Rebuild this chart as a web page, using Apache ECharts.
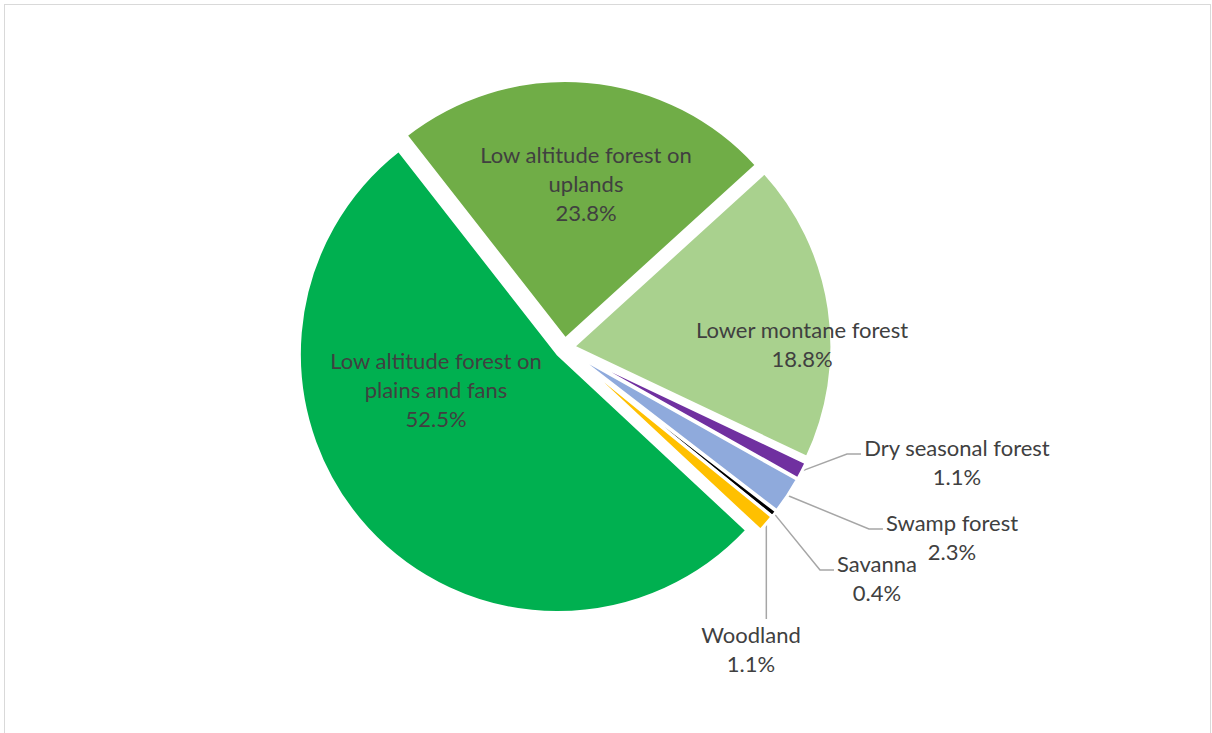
<!DOCTYPE html>
<html><head><meta charset="utf-8">
<script src="https://cdn.jsdelivr.net/npm/echarts@6/dist/echarts.min.js"></script>
<style>
html,body{margin:0;padding:0;background:#fff;}
#frame{position:absolute;left:4px;top:4px;width:1207px;height:745px;border:1px solid #d9d9d9;box-sizing:border-box;}
#main{position:absolute;left:0;top:0;width:1212px;height:733px;}
</style></head><body>
<div id="frame"></div><div id="main"></div>
<script>
// ---- data ----
const categories = ['Low altitude forest on uplands','Lower montane forest','Dry seasonal forest','Swamp forest','Savanna','Woodland','Low altitude forest on plains and fans'];
const labelNames = ['Low altitude forest on\nuplands','Lower montane forest','Dry seasonal forest','Swamp forest','Savanna','Woodland','Low altitude forest on\nplains and fans'];
const values = [23.8, 18.8, 1.1, 2.3, 0.4, 1.1, 52.5];
const colors = ['#70AD47','#A9D18E','#7030A0','#8FAADC','#000000','#FFC000','#00B050'];

// ---- layout (label placement, not data) ----
const labelKind = ['inside','inside','side','side','side','below','inside'];
const labelPos = [[586,183],[802,344],[957,462],[952,537],[877,578],[751,649],[436,389]];
const explode = 9;

const chart = echarts.init(document.getElementById('main'), null, {renderer:'svg'});
const textStyle = {fontFamily:'Lato', fontSize:22, lineHeight:29, color:'#404040'};
const common = {
  type: 'pie', center: [564.5, 348], radius: 258.5, startAngle: 128, clockwise: true,
  avoidLabelOverlap: false, emphasis: {disabled: true}, animation: false
};

// exploded slices
const sliceData = categories.map((c,i)=>({
  name: c, value: values[i], selected: true, itemStyle: {color: colors[i]}
}));
// label carrier (same geometry, transparent)
const labelData = categories.map((c,i)=>({
  name: c, value: values[i],
  itemStyle: {color: 'rgba(0,0,0,0)', borderWidth: 0},
  label: Object.assign({
    show: true,
    position: labelKind[i]==='inside' ? 'inside' : 'outside',
    formatter: () => labelNames[i] + '\n' + values[i].toFixed(1) + '%'
  }, textStyle),
  labelLine: {show: labelKind[i] !== 'inside', lineStyle:{color:'#a6a6a6', width:1.5}, length: 15, length2: 10}
}));

chart.setOption({
  animation: false,
  series: [
    Object.assign({}, common, {
      selectedMode: 'multiple', selectedOffset: explode,
      itemStyle: {borderColor:'#ffffff', borderWidth:3},
      label: {show: false}, labelLine: {show: false},
      silent: true,
      data: sliceData
    }),
    Object.assign({}, common, {
      silent: true,
      data: labelData,
      labelLayout: function (p) {
        const i = p.dataIndex;
        const pos = labelPos[i];
        const w = p.labelRect.width, h = p.labelRect.height;
        const res = {x: pos[0], y: pos[1], align: 'center', verticalAlign: 'middle'};
        if (labelKind[i] !== 'inside' && p.labelLinePoints) {
          const p0 = p.labelLinePoints[0], p1 = p.labelLinePoints[1];
          const len = Math.hypot(p1[0]-p0[0], p1[1]-p0[1]) || 1;
          const s = [p0[0] + (p1[0]-p0[0])/len*explode, p0[1] + (p1[1]-p0[1])/len*explode];
          const left = pos[0] - w/2, top = pos[1] - h/2;
          if (labelKind[i] === 'side') {
            const ey = top + 21;
            res.labelLinePoints = [s, [left - 17, ey], [left - 3, ey]];
          } else {
            res.labelLinePoints = [s, [s[0], top - 1], [s[0], top - 1]];
          }
        }
        return res;
      }
    })
  ]
});
</script>
</body></html>
